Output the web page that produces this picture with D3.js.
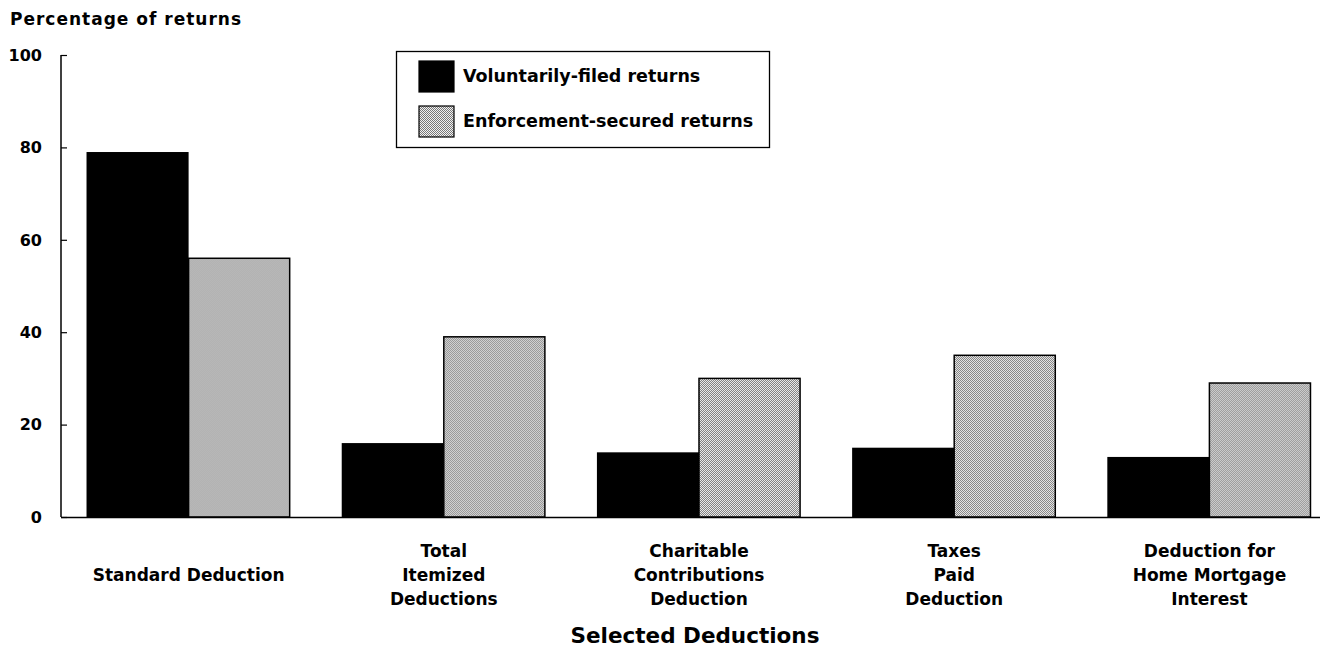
<!DOCTYPE html>
<html>
<head>
<meta charset="utf-8">
<script src="https://cdn.jsdelivr.net/npm/d3@7/dist/d3.min.js"></script>
<style>
  html, body { margin: 0; padding: 0; background: #fff; }
  svg { display: block; }
  text { font-family: "DejaVu Sans", "Liberation Sans", Arial, sans-serif; font-weight: bold; fill: #000; }
</style>
</head>
<body>
<svg id="chart" width="1337" height="648"></svg>
<script>
const categories = [
  ["Standard Deduction"],
  ["Total", "Itemized", "Deductions"],
  ["Charitable", "Contributions", "Deduction"],
  ["Taxes", "Paid", "Deduction"],
  ["Deduction for", "Home Mortgage", "Interest"]
];
const seriesNames = ["Voluntarily-filed returns", "Enforcement-secured returns"];
const voluntary = [79, 16, 14, 15, 13];
const enforcement = [56, 39, 30, 35, 29];
const yTicks = [0, 20, 40, 60, 80, 100];
const yTitle = "Percentage of returns";
const xTitle = "Selected Deductions";

const svg = d3.select("#chart");
const defs = svg.append("defs");
const pat = defs.append("pattern").attr("id", "dots")
  .attr("width", 2).attr("height", 2).attr("patternUnits", "userSpaceOnUse");
pat.append("rect").attr("width", 2).attr("height", 2).attr("fill", "#f2f2f2");
pat.append("rect").attr("x", 0).attr("y", 0).attr("width", 1).attr("height", 1).attr("fill", "#787878");
pat.append("rect").attr("x", 1).attr("y", 1).attr("width", 1).attr("height", 1).attr("fill", "#787878");

const keys = categories.map((c, i) => i);
const x0 = d3.scaleBand().domain(keys).range([61, 1337]).paddingInner(0.2).paddingOuter(0.1);
const x1 = d3.scaleBand().domain([0, 1]).range([0, x0.bandwidth()]);
const y = d3.scaleLinear().domain([0, 100]).range([517, 55]);

// Y axis
const yAxis = d3.axisRight(y).tickValues(yTicks).tickSize(6).tickFormat("");
const gy = svg.append("g").attr("transform", "translate(61,0)").call(yAxis);
gy.select(".domain").attr("stroke", "#000").attr("stroke-width", 1.5).attr("d", "M0,55V517");
gy.selectAll(".tick line").attr("stroke", "#000").attr("stroke-width", 1.2);

svg.append("g").selectAll("text").data(yTicks).join("text")
  .attr("x", 42).attr("y", d => y(d)).attr("dy", "0.36em")
  .attr("text-anchor", "end").style("font-size", "16px")
  .text(d => d);

svg.append("text").attr("x", 10).attr("y", 25).style("font-size", "17px")
  .style("letter-spacing", "1px").text(yTitle);

// Bars
const groups = svg.append("g").selectAll("g").data(keys).join("g")
  .attr("transform", d => `translate(${x0(d)},0)`);
groups.append("rect")
  .attr("x", x1(0)).attr("width", x1.bandwidth())
  .attr("y", d => y(voluntary[d])).attr("height", d => y(0) - y(voluntary[d]))
  .attr("fill", "#000");
groups.append("rect")
  .attr("x", x1(1)).attr("width", x1.bandwidth() - 1)
  .attr("y", d => y(enforcement[d])).attr("height", d => y(0) - y(enforcement[d]))
  .attr("fill", "url(#dots)").attr("stroke", "#000").attr("stroke-width", 1.5);

// X axis line
svg.append("line").attr("x1", 61).attr("x2", 1320).attr("y1", 517.5).attr("y2", 517.5)
  .attr("stroke", "#000").attr("stroke-width", 1.5);

// Category labels
const lab = svg.append("g").selectAll("text").data(keys).join("text")
  .attr("text-anchor", "middle").style("font-size", "17px")
  .attr("transform", d => `translate(${x0(d) + x0.bandwidth() / 2},0)`);
lab.each(function(d) {
  const lines = categories[d];
  const t = d3.select(this);
  const start = lines.length === 1 ? 581 : 557;
  lines.forEach((ln, i) => {
    t.append("tspan").attr("x", 0).attr("y", start + i * 24).text(ln);
  });
});

svg.append("text").attr("x", 695).attr("y", 643).attr("text-anchor", "middle")
  .style("font-size", "21.5px").text(xTitle);

// Legend
const lg = svg.append("g");
lg.append("rect").attr("x", 396.5).attr("y", 51.5).attr("width", 373).attr("height", 96)
  .attr("fill", "#fff").attr("stroke", "#000").attr("stroke-width", 1.3);
const fills = ["#000", "url(#dots)"];
seriesNames.forEach((name, i) => {
  lg.append("rect").attr("x", 419).attr("y", 61 + i * 45).attr("width", 35).attr("height", 31)
    .attr("fill", fills[i]).attr("stroke", "#000").attr("stroke-width", 1.2);
  lg.append("text").attr("x", 463).attr("y", 82 + i * 45).style("font-size", "17.5px").text(name);
});
</script>
</body>
</html>
